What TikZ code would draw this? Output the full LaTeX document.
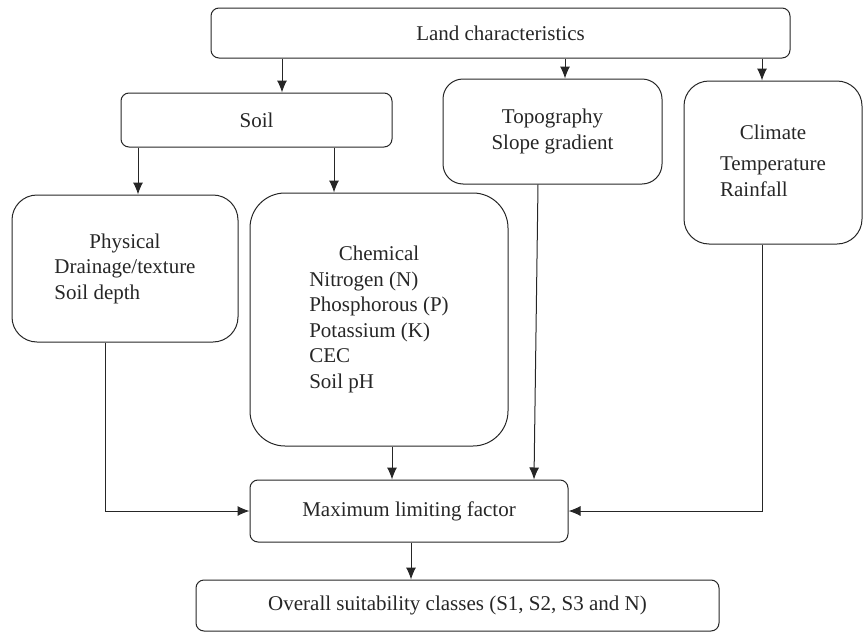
\documentclass[tikz,border=0pt]{standalone}
\usepackage{fontspec}
\setmainfont{Liberation Serif}
\usepackage{tikz}
\usetikzlibrary{arrows.meta}
\newcommand{\headlist}[3][0pt]{\begin{tabular}{@{}l@{}}\multicolumn{1}{@{}c@{}}{#2}\\[#1]#3\end{tabular}}

\begin{document}
\begin{tikzpicture}[x=1pt,y=-1pt,
  box/.style={draw=black!85, text=black!85, line width=1pt, rounded corners=8pt,
    inner sep=0pt, font=\fontsize{21}{25.5}\selectfont},
  arr/.style={draw=black!85, line width=1pt, -{Latex[length=12pt,width=10pt]}}]
\useasboundingbox (0,0) rectangle (863,632);
\node[box, minimum width=579pt, minimum height=50pt] (land) at (500.5,33) {Land characteristics};
\node[box, minimum width=271pt, minimum height=54pt] (soil) at (256.5,120) {Soil};
\node[box, rounded corners=20pt, minimum width=219pt, minimum height=105pt, align=center] (topo) at (552.5,131.5) {Topography\\Slope gradient};
\node[box, rounded corners=25pt, minimum width=178pt, minimum height=163pt] (climate) at (773,162.5) {\headlist[6pt]{Climate}{Temperature\\Rainfall}};
\node[box, rounded corners=25pt, minimum width=226pt, minimum height=147pt] (physical) at (125,268.5) {\headlist{Physical}{Drainage/texture\\Soil depth}};
\node[box, rounded corners=35pt, minimum width=258pt, minimum height=253pt] (chemical) at (379,319.5) {\headlist{Chemical}{Nitrogen (N)\\Phosphorous (P)\\Potassium (K)\\CEC\\Soil pH}};
\node[box, minimum width=318pt, minimum height=62pt] (mlf) at (409,511) {Maximum limiting factor};
\node[box, minimum width=523pt, minimum height=51pt] (overall) at (457.5,605.5) {Overall suitability classes (S1, S2, S3 and N)};

\draw[arr] ([xshift=25.5pt]soil.north |- land.south) -- ([xshift=25.5pt]soil.north);
\draw[arr] ([xshift=12.5pt]topo.north |- land.south) -- ([xshift=12.5pt]topo.north);
\draw[arr] ([xshift=-11pt]climate.north |- land.south) -- ([xshift=-11pt]climate.north);
\draw[arr] ([xshift=13pt]physical.north |- soil.south) -- ([xshift=13pt]physical.north);
\draw[arr] ([xshift=-45pt]chemical.north |- soil.south) -- ([xshift=-45pt]chemical.north);
\draw[arr] ([xshift=-20pt]physical.south) |- (mlf.west);
\draw[arr] ([xshift=13pt]chemical.south) -- ([xshift=13pt]chemical.south |- mlf.north);
\draw[arr] ([xshift=-14.5pt]topo.south) -- ([xshift=125pt]mlf.north);
\draw[arr] ([xshift=-11pt]climate.south) |- (mlf.east);
\draw[arr] ([xshift=2pt]mlf.south) -- ([xshift=2pt]mlf.south |- overall.north);
\end{tikzpicture}
\end{document}
